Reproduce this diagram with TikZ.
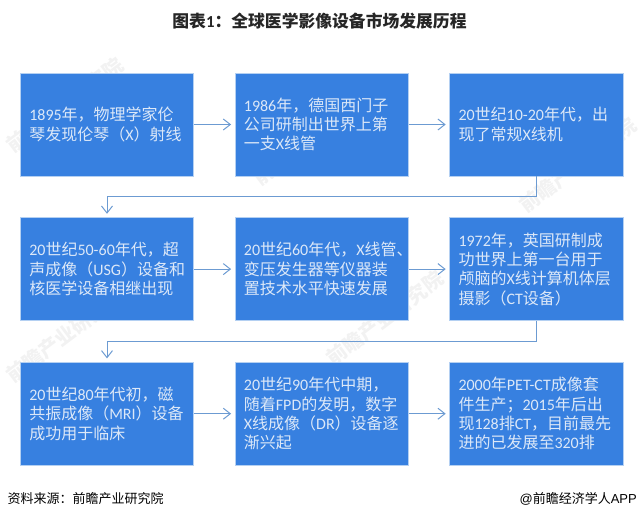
\documentclass[tikz,border=0pt]{standalone}
\usepackage{fontspec}
\setmainfont{Noto Sans CJK SC}
\newfontfamily\latfont{Carlito}
\newfontfamily\footfont{Liberation Sans}
\newcommand{\la}[1]{{\latfont #1}}
\usetikzlibrary{calc, %for the elbow connectors
                arrows.meta,
                positioning}
\definecolor{boxblue}{HTML}{3780E0}
\definecolor{boxedge}{HTML}{B4D0F2}
\definecolor{boxtext}{HTML}{DCE8F8}
\definecolor{linkblue}{HTML}{6C9BD2}

\begin{document}
\begin{tikzpicture}[x=1pt, y=1pt,
                    Stage/.style={draw=boxedge, fill=boxblue, text=boxtext, line width=.6pt,
                                  text width=155.4pt, inner xsep=9pt, inner ysep=0pt,
                                  minimum height=103pt, align=left,
                                  font=\fontsize{16}{19.3}\selectfont},
                    Link/.style={draw=linkblue, line width=1pt, shorten >=3.5pt,
                                 -{Straight Barb[length=7pt,width=11pt]}},
                    Mark/.style={text=black!5, rotate=37, font=\bfseries\fontsize{20}{20}\selectfont}
                    ]
    \useasboundingbox (0,0) rectangle (639,-520);

    % WATERMARKS %
    \node[Mark] (W1) at (65,-105) {前瞻产业研究院};
    \node[Mark] (W2) at (312,-138) {前瞻产业研究院};
    \node[Mark] (W3) at (578,-165) {前瞻产业研究院};
    \node[Mark] (W4) at (65,-335) {前瞻产业研究院};
    \node[Mark] (W5) at (385,-318) {前瞻产业研究院};

    % TITLE %
    \node[font=\bfseries\fontsize{16.8}{20}\selectfont, text=black!85] (title) at (319.5,-21)
        {图表\la{1}：全球医学影像设备市场发展历程};

    % ROW ONE %
    \node[Stage] (S1) at (107,-124.5) {\la{1895}年，物理学家伦\\琴发现伦琴（\la{X}）射线};
    \node[Stage, right=40.6pt of S1] (S2) {\la{1986}年，德国西门子\\公司研制出世界上第\\一支\la{X}线管};
    \node[Stage, right=40.6pt of S2] (S3) {\la{20}世纪\la{10-20}年代，出\\现了常规\la{X}线机};

    % ROW TWO %
    \node[Stage, below=41pt of S1] (S4) {\la{20}世纪\la{50-60}年代，超\\声成像（\la{USG}）设备和\\核医学设备相继出现};
    \node[Stage, right=40.6pt of S4] (S5) {\la{20}世纪\la{60}年代，\la{X}线管、\\变压发生器等仪器装\\置技术水平快速发展};
    \node[Stage, right=40.6pt of S5] (S6) {\la{1972}年，英国研制成\\功世界上第一台用于\\颅脑的\la{X}线计算机体层\\摄影（\la{CT}设备）};

    % ROW THREE %
    \node[Stage, below=41pt of S4] (S7) {\la{20}世纪\la{80}年代初，磁\\共振成像（\la{MRI}）设备\\成功用于临床};
    \node[Stage, right=40.6pt of S7] (S8) {\la{20}世纪\la{90}年代中期，\\随着\la{FPD}的发明，数字\\\la{X}线成像（\la{DR}）设备逐\\渐兴起};
    \node[Stage, right=40.6pt of S8] (S9) {\la{2000}年\la{PET-CT}成像套\\件生产；\la{2015}年后出\\现\la{128}排\la{CT}，目前最先\\进的已发展至\la{320}排};

    % LINKS %
    \foreach \a/\b in {S1/S2,S2/S3,S4/S5,S5/S6,S7/S8,S8/S9}{
    \draw[Link] (\a) -- (\b);
    }
    \coordinate (T1) at ($(S3.south)!0.5!(S4.north)$);
    \coordinate (T2) at ($(S6.south)!0.5!(S7.north)$);
    \draw[Link] (S3.south) |- (T1) -| (S4.north);
    \draw[Link] (S6.south) |- (T2) -| (S7.north);

    % FOOTER %
    \node[anchor=west, inner sep=0pt, font=\fontsize{13}{15}\selectfont] (source) at (7.5,-499) {资料来源：前瞻产业研究院};
    \node[anchor=east, inner sep=0pt, font=\fontsize{13}{15}\selectfont] (brand) at (637,-499) {{\footfont @}前瞻经济学人{\footfont APP}};
\end{tikzpicture}
\end{document}
